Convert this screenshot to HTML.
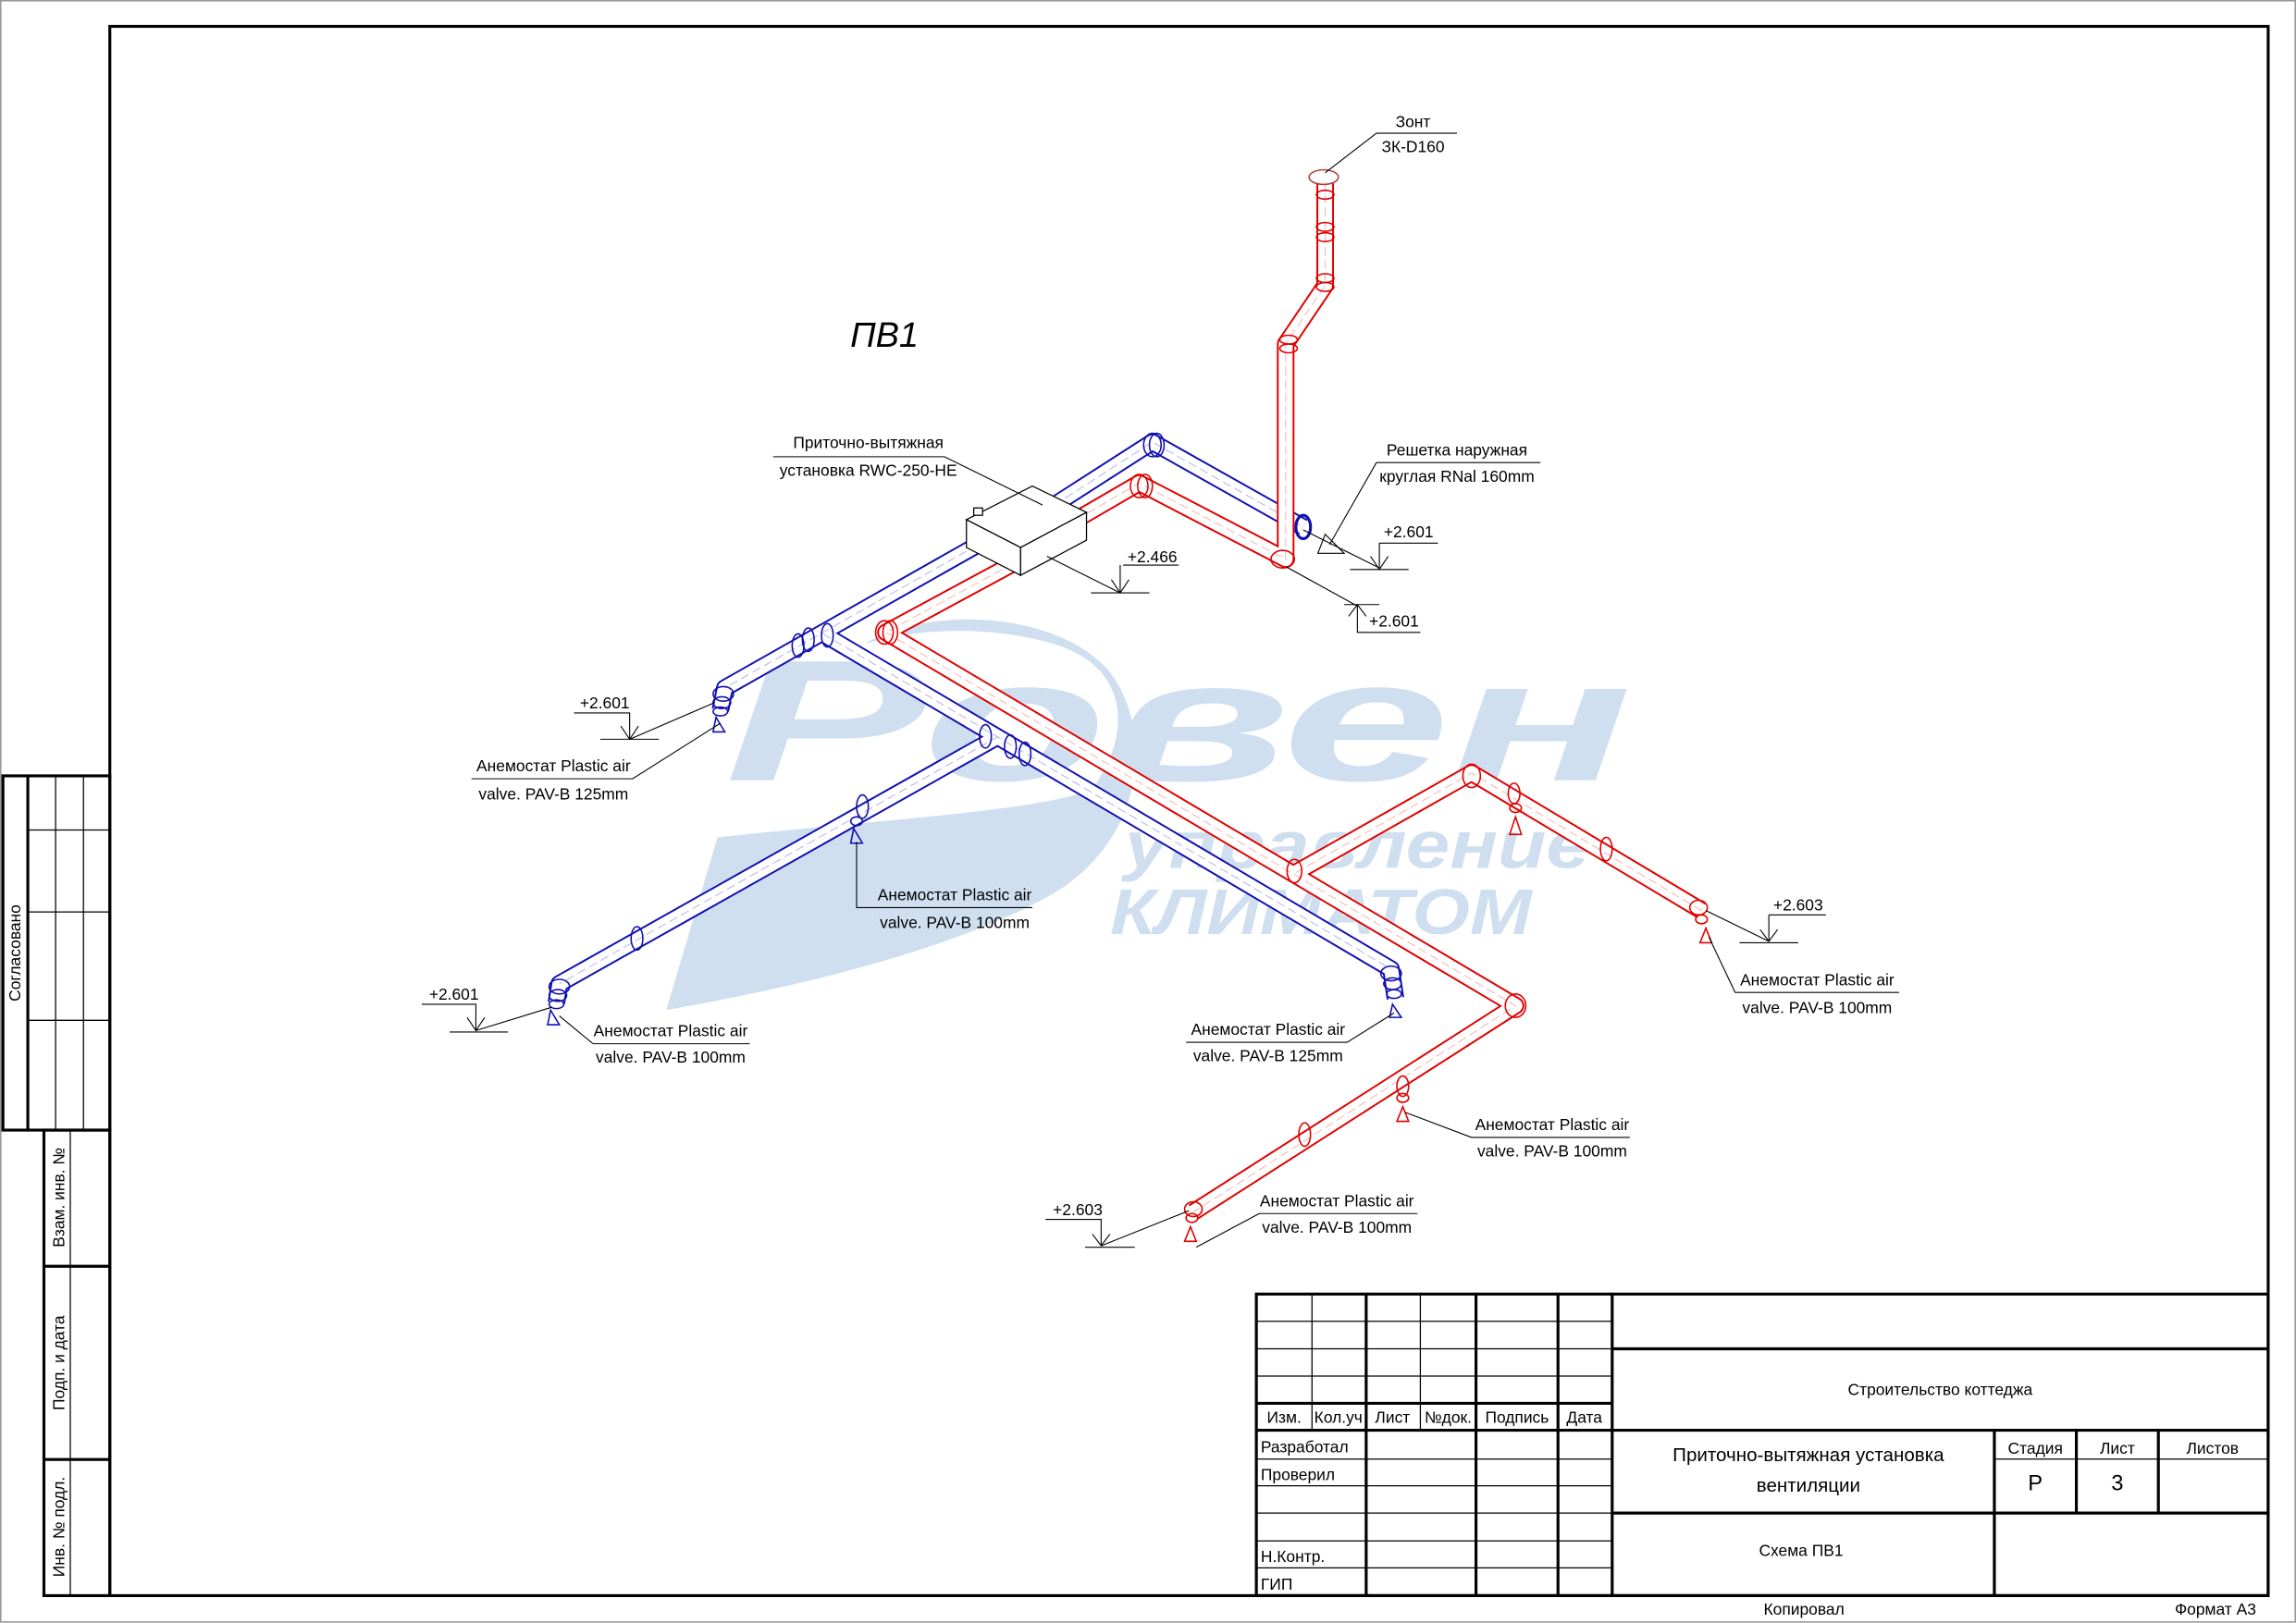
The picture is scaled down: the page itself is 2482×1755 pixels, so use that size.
<!DOCTYPE html>
<html><head><meta charset="utf-8"><style>
html,body{margin:0;padding:0;background:#fff}
svg{display:block}
text{font-family:"Liberation Sans Narrow","Liberation Sans",sans-serif;fill:#000}
.t{font-size:11px}
.o{fill:none;stroke-linecap:butt;stroke-linejoin:round}
.ro{stroke:#e00000;stroke-width:12}
.bo{stroke:#1010b0;stroke-width:12}
.wi{stroke:#fff;stroke-width:9.5}
.rc{stroke:#f4b0b0;stroke-width:0.6;stroke-dasharray:6 3}
.bc{stroke:#b0b0e8;stroke-width:0.6;stroke-dasharray:6 3}
.l{stroke:#000;stroke-width:0.7;fill:none}
.th{stroke:#000;stroke-width:2;fill:none}
.tn{stroke:#000;stroke-width:0.8;fill:none}
.rr{fill:none;stroke:#e00000;stroke-width:1}
.br{fill:none;stroke:#1010b0;stroke-width:1}
</style></head><body>
<svg width="2482" height="1755" viewBox="0 0 1568 1108.7" preserveAspectRatio="none" xmlns="http://www.w3.org/2000/svg">
<rect x="0.5" y="0.5" width="1567" height="1107.5" fill="#fff" stroke="#999" stroke-width="1"/>

<!-- watermark -->
<g fill="#cfdff0">
<path d="M455,690 L490,572 C600,560 700,555 745,540 C775,500 770,455 720,440 C680,428 630,428 590,440 C640,410 740,420 765,470 C790,520 770,580 720,610 C650,650 540,675 455,690 Z"/>
<text x="495" y="533" font-size="118" font-style="italic" font-weight="bold" style="fill:#cfdff0;font-family:'Liberation Sans',sans-serif" textLength="620" lengthAdjust="spacingAndGlyphs">Ровен</text>
<text x="768" y="593" font-size="46" font-style="italic" font-weight="bold" style="fill:#cfdff0;font-family:'Liberation Sans',sans-serif" textLength="318" lengthAdjust="spacingAndGlyphs">управление</text>
<text x="758" y="638" font-size="44" font-style="italic" font-weight="bold" style="fill:#cfdff0;font-family:'Liberation Sans',sans-serif" textLength="288" lengthAdjust="spacingAndGlyphs">КЛИМАТОМ</text>
</g>

<!-- frames -->
<rect x="75" y="18" width="1474" height="1072" fill="none" stroke="#000" stroke-width="2"/>
<g class="th">
<rect x="2" y="530" width="73" height="242"/>
<rect x="30" y="772" width="45" height="318"/>
<line x1="19" y1="530" x2="19" y2="772"/>
<line x1="30" y1="865" x2="75" y2="865"/><line x1="30" y1="997" x2="75" y2="997"/>
</g>
<g class="tn">
<line x1="38" y1="530" x2="38" y2="772"/><line x1="57" y1="530" x2="57" y2="772"/>
<line x1="19" y1="567" x2="75" y2="567"/><line x1="19" y1="623" x2="75" y2="623"/><line x1="19" y1="697" x2="75" y2="697"/>
<line x1="48" y1="772" x2="48" y2="1090"/>
</g>
<text class="t" transform="translate(14,651) rotate(-90)" text-anchor="middle">Согласовано</text>
<text class="t" transform="translate(44,818) rotate(-90)" text-anchor="middle">Взам. инв. №</text>
<text class="t" transform="translate(44,931) rotate(-90)" text-anchor="middle">Подп. и дата</text>
<text class="t" transform="translate(44,1043) rotate(-90)" text-anchor="middle">Инв. № подл.</text>

<!-- title block -->
<g class="th">
<rect x="858" y="884" width="691" height="206"/>
<line x1="933" y1="884" x2="933" y2="1090"/><line x1="1008" y1="884" x2="1008" y2="1090"/>
<line x1="1064" y1="884" x2="1064" y2="1090"/><line x1="1101" y1="884" x2="1101" y2="1090"/>
<line x1="858" y1="958.6" x2="1101" y2="958.6"/><line x1="858" y1="977" x2="1549" y2="977"/>
<line x1="1101" y1="921.4" x2="1549" y2="921.4"/><line x1="1101" y1="1033.6" x2="1549" y2="1033.6"/>
<line x1="1362" y1="977" x2="1362" y2="1090"/><line x1="1418" y1="977" x2="1418" y2="1033.6"/><line x1="1474" y1="977" x2="1474" y2="1033.6"/>
</g>
<g class="tn">
<line x1="896" y1="884" x2="896" y2="977"/><line x1="970" y1="884" x2="970" y2="977"/>
<line x1="858" y1="902.6" x2="1101" y2="902.6"/><line x1="858" y1="921.4" x2="1101" y2="921.4"/><line x1="858" y1="940" x2="1101" y2="940"/>
<line x1="858" y1="996.7" x2="1101" y2="996.7"/><line x1="858" y1="1015" x2="1101" y2="1015"/><line x1="858" y1="1033.6" x2="1101" y2="1033.6"/>
<line x1="858" y1="1052.6" x2="1101" y2="1052.6"/><line x1="858" y1="1071" x2="1101" y2="1071"/>
<line x1="1362" y1="996.7" x2="1549" y2="996.7"/>
</g>
<g class="t">
<text x="877" y="972" text-anchor="middle">Изм.</text>
<text x="914" y="972" text-anchor="middle">Кол.уч</text>
<text x="951" y="972" text-anchor="middle">Лист</text>
<text x="989" y="972" text-anchor="middle">№док.</text>
<text x="1036" y="972" text-anchor="middle">Подпись</text>
<text x="1082" y="972" text-anchor="middle">Дата</text>
<text x="861" y="992">Разработал</text>
<text x="861" y="1011">Проверил</text>
<text x="861" y="1067">Н.Контр.</text>
<text x="861" y="1086">ГИП</text>
<text x="1325" y="953" text-anchor="middle">Строительство коттеджа</text>
<text x="1390" y="993" text-anchor="middle">Стадия</text>
<text x="1446" y="993" text-anchor="middle">Лист</text>
<text x="1511" y="993" text-anchor="middle">Листов</text>
<text x="1230" y="1063" text-anchor="middle">Схема ПВ1</text>
<text x="1232" y="1103" text-anchor="middle">Копировал</text>
<text x="1513" y="1103" text-anchor="middle">Формат А3</text>
</g>
<text x="1235" y="998" text-anchor="middle" font-size="13">Приточно-вытяжная установка</text>
<text x="1235" y="1019" text-anchor="middle" font-size="13">вентиляции</text>
<text x="1390" y="1018" text-anchor="middle" font-size="15">Р</text>
<text x="1446" y="1018" text-anchor="middle" font-size="15">3</text>

<text x="604" y="237" text-anchor="middle" font-size="24" font-style="italic" style="font-family:'Liberation Sans',sans-serif">ПВ1</text>

<!-- blue ducts -->
<g class="o">
<path class="bo" d="M720,345 L787,302 L890,360"/>
<path class="bo" d="M668,372 L495,470 L492,485"/>
<path class="bo" d="M562,433 L950,662 L953,682"/>
<path class="bo" d="M682,503 L382,672 L380,685"/>
<path class="wi" d="M720,345 L787,302 L890,360"/>
<path class="wi" d="M668,372 L495,470 L492,485"/>
<path class="wi" d="M562,433 L950,662 L953,682"/>
<path class="wi" d="M682,503 L382,672 L380,685"/>
<path class="bc" d="M720,345 L787,302 L890,360 M668,372 L495,470 M562,433 L950,662 M682,503 L382,672"/>
</g>
<!-- red ducts -->
<g class="o">
<path class="ro" d="M735,355 L778,330 L878,382 L878,235 L905,195 L905,125"/>
<path class="ro" d="M692,385 L605,432 L1035,687 L815,828"/>
<path class="ro" d="M885,596 L1005,528 L1162,622"/>
<path class="wi" d="M735,355 L778,330 L878,382 L878,235 L905,195 L905,125"/>
<path class="wi" d="M692,385 L605,432 L1035,687 L815,828"/>
<path class="wi" d="M885,596 L1005,528 L1162,622"/>
<path class="rc" d="M735,355 L778,330 L878,382 L878,235 L905,195 L905,125 M692,385 L605,432 L1035,687 L815,828 M885,596 L1005,528 L1162,622"/>
</g>
<!-- fittings -->
<g class="br">
<ellipse cx="787" cy="304" rx="6" ry="8"/><ellipse cx="790" cy="304" rx="5" ry="8"/>
<ellipse cx="890" cy="360" rx="5" ry="8" stroke-width="2"/>
<ellipse cx="545" cy="441" rx="4" ry="8"/><ellipse cx="552" cy="437" rx="4" ry="8"/><ellipse cx="565" cy="434" rx="4" ry="8"/>
<ellipse cx="494" cy="474" rx="7" ry="5"/><ellipse cx="493" cy="480" rx="6" ry="4"/><ellipse cx="492" cy="486" rx="5" ry="3"/>
<ellipse cx="673" cy="503" rx="4" ry="8"/><ellipse cx="690" cy="510" rx="4" ry="8"/><ellipse cx="700" cy="515" rx="4" ry="8"/>
<ellipse cx="589" cy="551" rx="4" ry="8"/><ellipse cx="585" cy="561" rx="4" ry="3"/>
<ellipse cx="435" cy="641" rx="4" ry="8"/>
<ellipse cx="382" cy="674" rx="7" ry="5"/><ellipse cx="381" cy="680" rx="6" ry="4"/><ellipse cx="380" cy="686" rx="5" ry="3"/>
<ellipse cx="950" cy="665" rx="7" ry="5"/><ellipse cx="951" cy="672" rx="6" ry="4"/><ellipse cx="952" cy="679" rx="5" ry="3"/>
<path d="M376,690 L382,700 L374,700 Z M489,490 L495,500 L487,500 Z M583,566 L589,576 L581,576 Z M951,686 L957,695 L949,695 Z"/>
</g>
<g class="rr">
<ellipse cx="904" cy="121" rx="10" ry="5" stroke="#b04040"/>
<ellipse cx="905" cy="133" rx="6" ry="3"/><ellipse cx="905" cy="155" rx="6" ry="3"/><ellipse cx="905" cy="162" rx="6" ry="3"/><ellipse cx="905" cy="190" rx="6" ry="3"/><ellipse cx="905" cy="196" rx="6" ry="3"/>
<ellipse cx="880" cy="232" rx="6" ry="3"/><ellipse cx="880" cy="238" rx="6" ry="3"/>
<ellipse cx="778" cy="332" rx="6" ry="8"/><ellipse cx="782" cy="332" rx="5" ry="8"/>
<ellipse cx="876" cy="382" rx="8" ry="6"/><ellipse cx="604" cy="432" rx="6" ry="8"/><ellipse cx="608" cy="432" rx="5" ry="8"/>
<ellipse cx="884" cy="595" rx="5" ry="8"/><ellipse cx="1005" cy="530" rx="6" ry="8"/>
<ellipse cx="1034" cy="542" rx="4" ry="7"/><ellipse cx="1035" cy="552" rx="4" ry="3"/>
<ellipse cx="1097" cy="580" rx="4" ry="8"/>
<ellipse cx="1160" cy="620" rx="6" ry="5"/><ellipse cx="1162" cy="628" rx="4" ry="3"/>
<ellipse cx="1035" cy="687" rx="7" ry="8"/>
<ellipse cx="958" cy="742" rx="4" ry="7"/><ellipse cx="958" cy="750" rx="4" ry="3"/>
<ellipse cx="891" cy="775" rx="4" ry="8"/>
<ellipse cx="815" cy="826" rx="6" ry="5"/><ellipse cx="814" cy="832" rx="4" ry="3"/>
<path d="M1035,558 L1039,570 L1031,570 Z M958,756 L962,766 L954,766 Z M1165,634 L1169,644 L1161,644 Z M813,838 L817,848 L809,848 Z"/>
</g>

<!-- unit -->
<g stroke="#000" stroke-width="0.8" fill="#fff">
<path d="M660,355 L705,332 L742,350 L697,374 Z"/>
<path d="M660,355 L697,374 L697,393 L660,374 Z"/>
<path d="M697,374 L742,350 L742,369 L697,393 Z"/>
<rect x="665" y="347" width="6" height="5"/>
</g>

<!-- annotations -->
<g class="l">
<path d="M940,91 L995,91 M940,91 L905,118"/>
<path d="M528,312 L645,312 L712,345"/>
<path d="M940,316 L1052,316 M940,316 L908,372 M905,365 L918,378 L900,378 Z"/>
<path d="M890,362 L942,388 M942,371 L982,371 M942,371 L942,388 M922,389 L962,389 M936,380 L942,389 L948,380"/>
<path d="M715,380 L765,405 M767,386 L805,386 M765,386 L765,405 M745,405 L785,405 M759,396 L765,405 L771,396"/>
<path d="M878,387 L927,414 M918,413 L942,413 M927,413 L927,432 L970,432 M921,421 L927,413 L933,421"/>
<path d="M392,487 L430,487 L430,505 M410,505 L450,505 M424,496 L430,505 L436,496 M430,505 L488,480"/>
<path d="M322,532 L432,532 L492,494"/>
<path d="M585,575 L585,620 L705,620"/>
<path d="M288,686 L325,686 L325,704 M307,705 L347,705 M319,695 L325,704 L331,695 M325,704 L377,688"/>
<path d="M405,713 L512,713 M405,713 L382,694"/>
<path d="M810,712 L920,712 L952,692"/>
<path d="M1208,625 L1247,625 M1208,625 L1208,643 M1188,644 L1228,644 M1202,635 L1208,643 L1214,635 M1208,643 L1165,622"/>
<path d="M1185,678 L1297,678 M1185,678 L1167,640"/>
<path d="M1005,777 L1113,777 M1005,777 L960,760"/>
<path d="M714,833 L752,833 L752,851 M741,852 L775,852 M746,843 L752,851 L758,843 M752,851 L812,827"/>
<path d="M860,829 L968,829 M860,829 L817,852"/>
</g>
<g class="t">
<text x="965" y="87" text-anchor="middle">Зонт</text>
<text x="965" y="104" text-anchor="middle">ЗК-D160</text>
<text x="593" y="306" text-anchor="middle">Приточно-вытяжная</text>
<text x="593" y="325" text-anchor="middle">установка RWC-250-HE</text>
<text x="995" y="311" text-anchor="middle">Решетка наружная</text>
<text x="995" y="329" text-anchor="middle">круглая RNal 160mm</text>
<text x="962" y="367" text-anchor="middle">+2.601</text>
<text x="787" y="384" text-anchor="middle">+2.466</text>
<text x="952" y="428" text-anchor="middle">+2.601</text>
<text x="413" y="484" text-anchor="middle">+2.601</text>
<text x="378" y="527" text-anchor="middle">Анемостат Plastic air</text>
<text x="378" y="546" text-anchor="middle">valve. PAV-B 125mm</text>
<text x="652" y="615" text-anchor="middle">Анемостат Plastic air</text>
<text x="652" y="634" text-anchor="middle">valve. PAV-B 100mm</text>
<text x="310" y="683" text-anchor="middle">+2.601</text>
<text x="458" y="708" text-anchor="middle">Анемостат Plastic air</text>
<text x="458" y="726" text-anchor="middle">valve. PAV-B 100mm</text>
<text x="866" y="707" text-anchor="middle">Анемостат Plastic air</text>
<text x="866" y="725" text-anchor="middle">valve. PAV-B 125mm</text>
<text x="1228" y="622" text-anchor="middle">+2.603</text>
<text x="1241" y="673" text-anchor="middle">Анемостат Plastic air</text>
<text x="1241" y="692" text-anchor="middle">valve. PAV-B 100mm</text>
<text x="1060" y="772" text-anchor="middle">Анемостат Plastic air</text>
<text x="1060" y="790" text-anchor="middle">valve. PAV-B 100mm</text>
<text x="736" y="830" text-anchor="middle">+2.603</text>
<text x="913" y="824" text-anchor="middle">Анемостат Plastic air</text>
<text x="913" y="842" text-anchor="middle">valve. PAV-B 100mm</text>
</g>
</svg>
</body></html>
